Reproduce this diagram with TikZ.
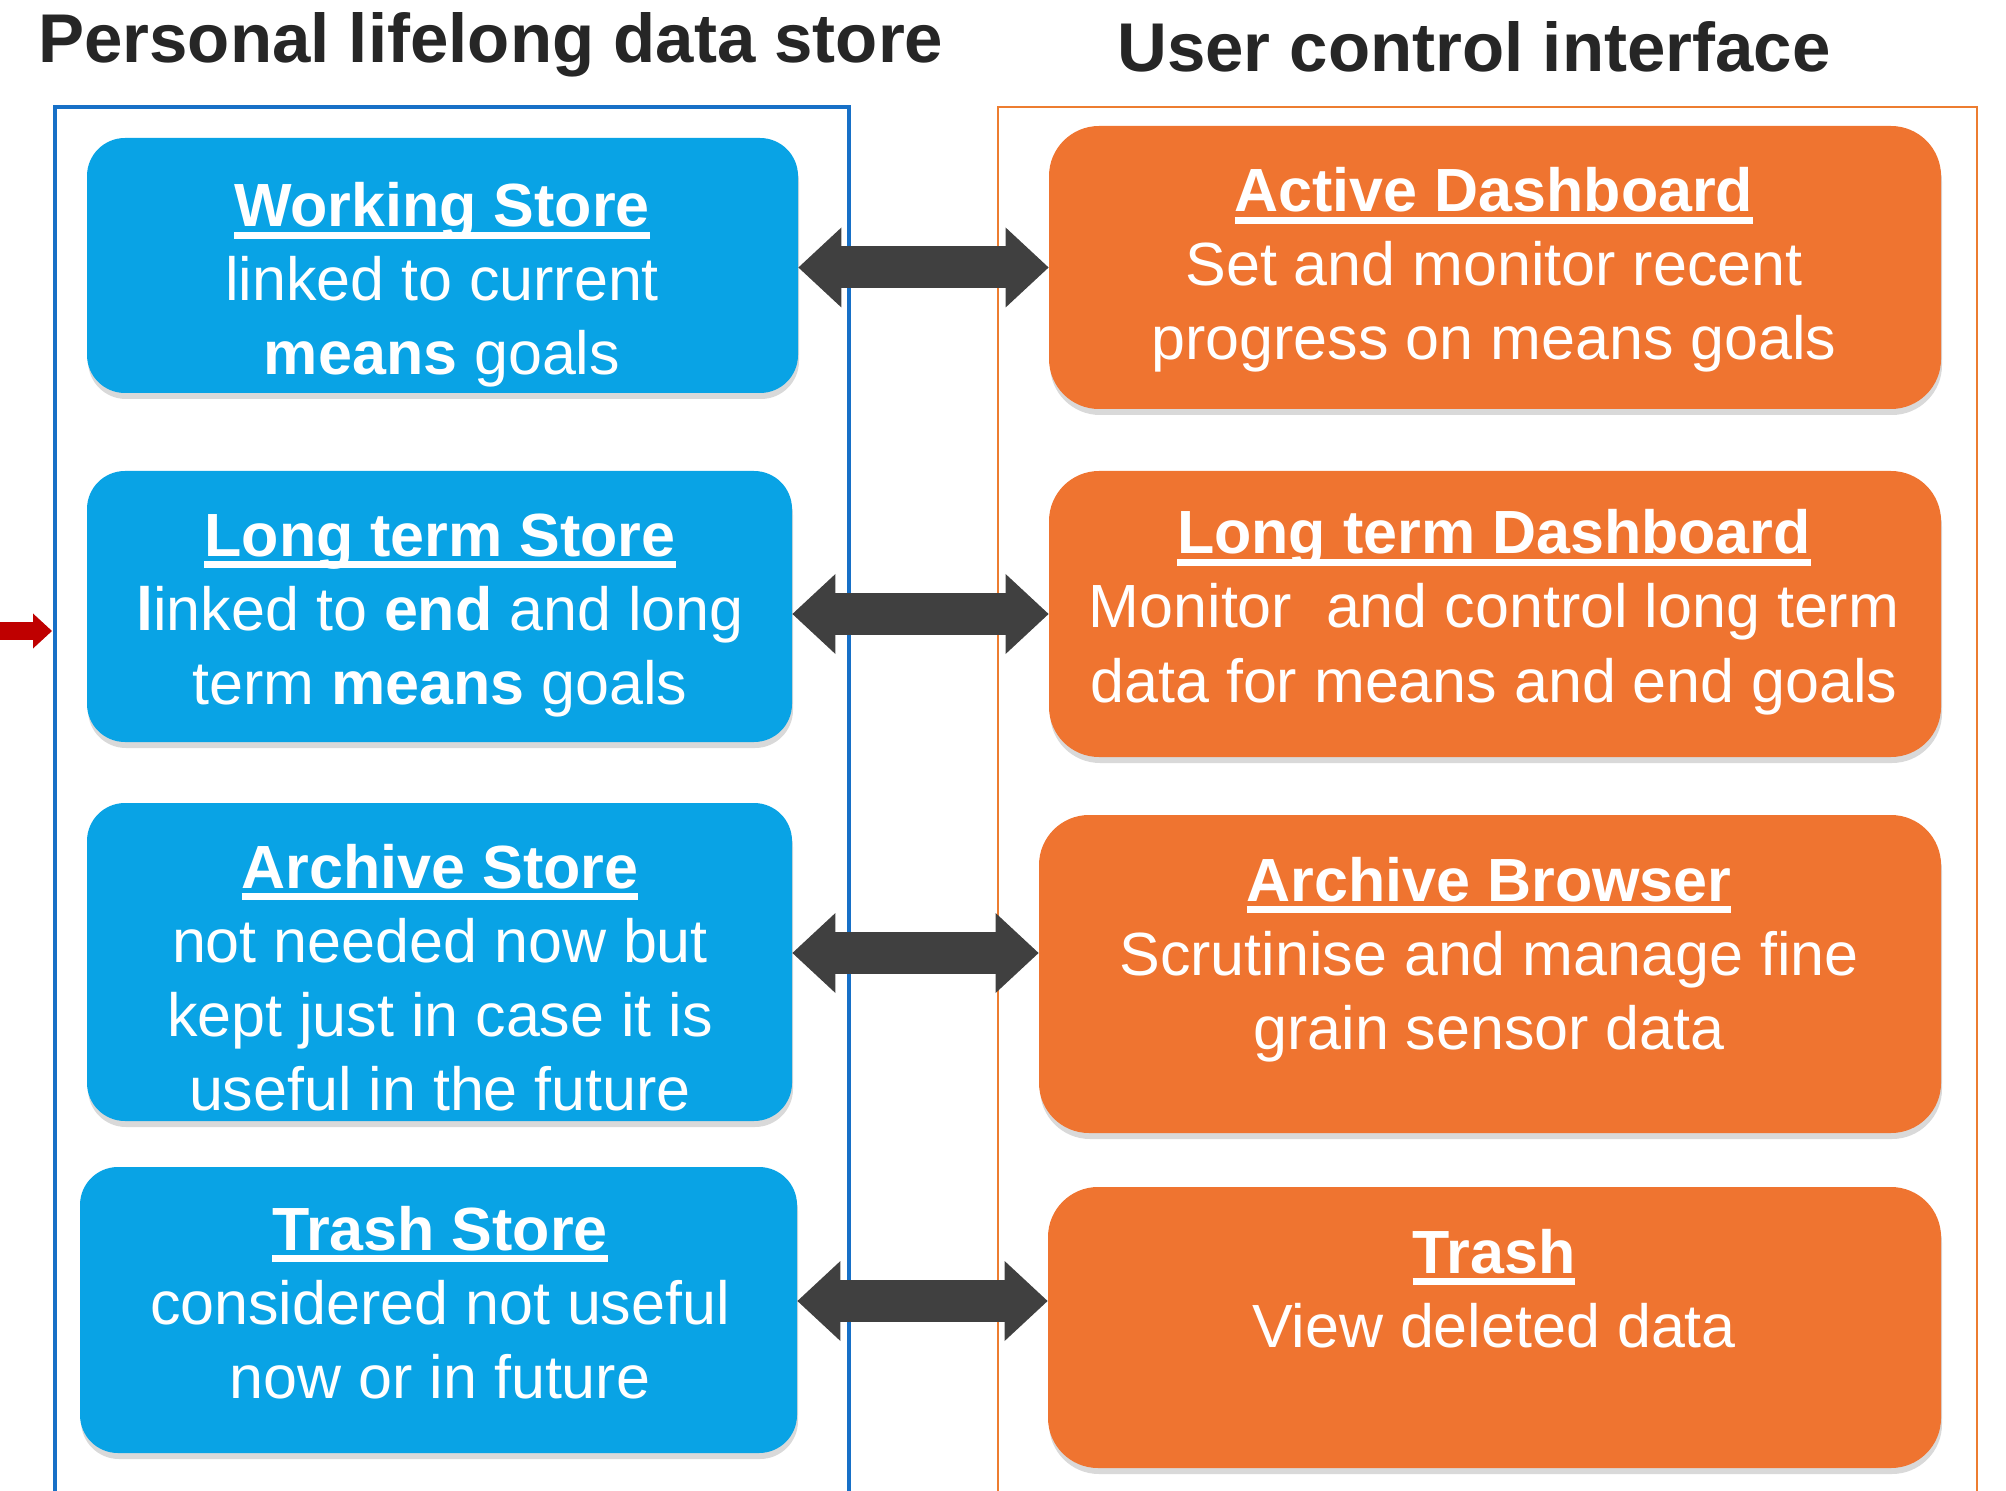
\documentclass[tikz,border=0pt]{standalone}
\usepackage{fontspec}
\setmainfont{Liberation Sans}
\usetikzlibrary{arrows.meta,shadows}
\definecolor{StoreClr}{rgb}{0.035,0.64,0.9}
\definecolor{PanelClr}{rgb}{0.937,0.455,0.188}
\definecolor{StoreFrameClr}{rgb}{0.09,0.44,0.78}
\definecolor{PanelFrameClr}{rgb}{0.93,0.49,0.19}
\definecolor{LinkClr}{rgb}{0.25,0.25,0.25}
\definecolor{FeedClr}{rgb}{0.75,0,0}
\newcommand{\boxtitle}[1]{\setbox0\hbox{\bfseries #1}\rlap{\rule[-6pt]{\wd0}{3.5pt}}\box0}

\begin{document}
\begin{tikzpicture}[x=0.5pt,y=-0.5pt,
  store/.style={rectangle,rounded corners=19pt,fill=StoreClr,inner sep=0pt,
    drop shadow={shadow xshift=0.5pt,shadow yshift=-3pt,opacity=0.3}},
  panel/.style={rectangle,rounded corners=25pt,fill=PanelClr,inner sep=0pt,
    drop shadow={shadow xshift=0.5pt,shadow yshift=-3pt,opacity=0.3}},
  txt/.style={text=white,align=center,inner sep=0pt,
    font=\fontsize{30.5pt}{37pt}\selectfont,
    execute at begin node=\strut,execute at end node=\strut},
  heading/.style={font=\fontsize{34.5pt}{41pt}\selectfont\bfseries,
    text=black!85,inner sep=0pt,anchor=base west},
  link/.style={draw=LinkClr,line width=21pt,
    {Triangle[length=21.5pt,width=40pt,line width=0pt]}-{Triangle[length=21.5pt,width=40pt,line width=0pt]}},
  feedlink/.style={draw=FeedClr,line width=9pt,
    -{Triangle[length=9.5pt,width=17.5pt,line width=0pt]}}]
\useasboundingbox (0,0) rectangle (2006,1491);

\node[heading] (lhead) at (38,63) {Personal lifelong data store};
\node[heading] (rhead) at (1117,72) {User control interface};

\draw[StoreFrameClr,line width=2.2pt] (55,1495) -- (55,107) -- (849,107) -- (849,1495);
\draw[PanelFrameClr,line width=0.75pt] (998,1495) -- (998,107) -- (1977,107) -- (1977,1495);

\node[store,minimum width=355.5pt,minimum height=127.5pt] (b1) at (442.5,265.5) {};
\node[store,minimum width=352.5pt,minimum height=135.5pt] (b2) at (439.5,606.5) {};
\node[store,minimum width=352.5pt,minimum height=159pt] (b3) at (439.5,962) {};
\node[store,minimum width=358.5pt,minimum height=143pt] (b4) at (438.5,1310) {};

\node[panel,minimum width=446pt,minimum height=141.5pt] (p1) at (1495,267.5) {};
\node[panel,minimum width=446pt,minimum height=143pt] (p2) at (1495,614) {};
\node[panel,minimum width=451pt,minimum height=159pt] (p3) at (1490,974) {};
\node[panel,minimum width=446.5pt,minimum height=140.5pt] (p4) at (1494.5,1327.5) {};

\node[txt] (b1t) at (442,290) {\boxtitle{Working Store}\\linked to current\\\textbf{means} goals};
\node[txt] (b2t) at (440,620) {\boxtitle{Long term Store}\\\textbf{l}inked to \textbf{end} and long\\term \textbf{means} goals};
\node[txt] (b3t) at (440,988) {\boxtitle{Archive Store}\\not needed now but\\kept just in case it is\\useful in the future};
\node[txt] (b4t) at (440,1313) {\boxtitle{Trash Store}\\considered not useful\\now or in future};

\node[txt] (p1t) at (1494,275) {\boxtitle{Active Dashboard}\\Set and monitor recent\\progress on means goals};
\node[txt] (p2t) at (1494,617) {\boxtitle{Long term Dashboard}\\Monitor \ and control long term\\data for means and end goals};
\node[txt] (p3t) at (1489,964) {\boxtitle{Archive Browser}\\Scrutinise and manage fine\\grain sensor data};
\node[txt] (p4t) at (1494,1299) {\boxtitle{Trash}\\View deleted data};

\draw[link] (b1.east |- p1.west) -- (p1.west);
\draw[link] (b2.east |- p2.west) -- (p2.west);
\draw[link] ([yshift=4.5pt]b3.east) -- ([yshift=4.5pt]b3.east -| p3.west);
\draw[link] ([yshift=4.5pt]b4.east) -- ([yshift=4.5pt]b4.east -| p4.west);

\coordinate (feed) at (0,631);
\coordinate (port) at (52,631);
\draw[feedlink] (feed) -- (port);

\end{tikzpicture}
\end{document}
